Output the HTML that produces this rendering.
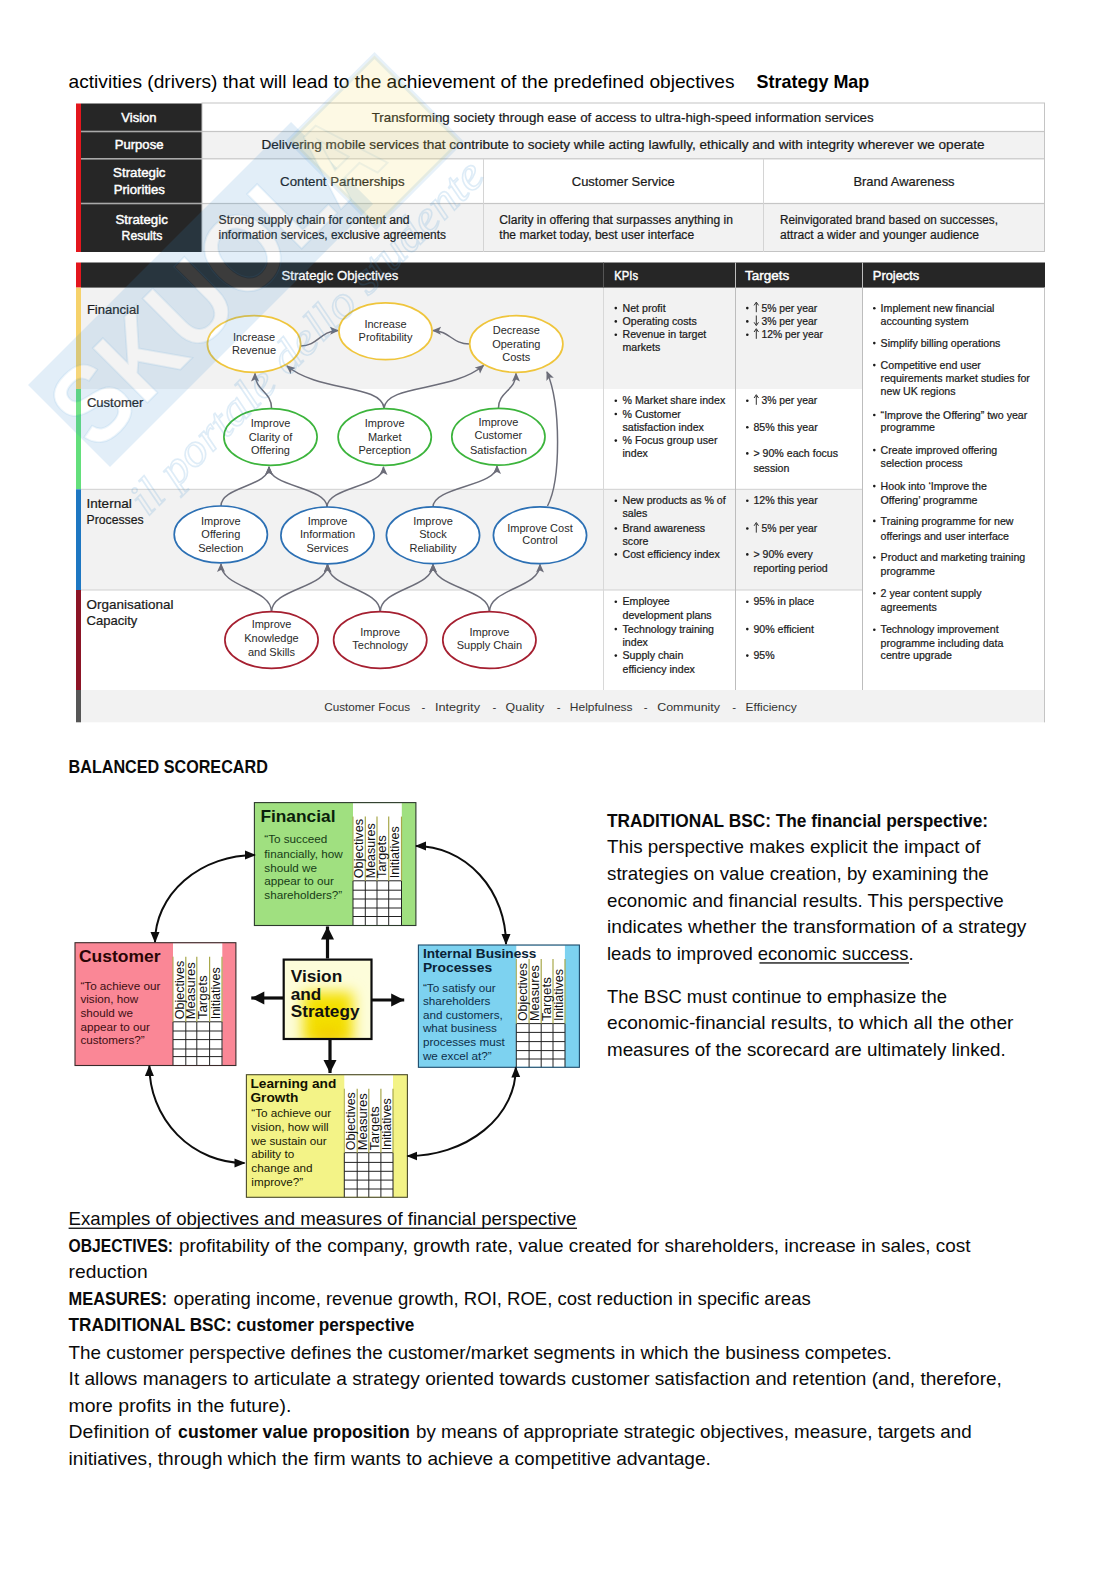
<!DOCTYPE html><html><head><meta charset="utf-8"><style>
html,body{margin:0;padding:0;background:#fff;}
svg{display:block;font-family:"Liberation Sans",sans-serif;}
</style></head><body>
<svg width="1118" height="1579" viewBox="0 0 1118 1579">
<!--WM-->
<text x="68.6" y="87.5" font-size="19" fill="#000" textLength="665.9" lengthAdjust="spacingAndGlyphs">activities (drivers) that will lead to the achievement of the predefined objectives</text>
<text x="756.6" y="87.5" font-size="19" font-weight="bold" fill="#000" textLength="112.7" lengthAdjust="spacingAndGlyphs">Strategy Map</text>
<g>
<rect x="202" y="103.5" width="843" height="28.0" fill="#ffffff"/>
<rect x="202" y="131.5" width="843" height="27.30000000000001" fill="#f2f2f2"/>
<rect x="202" y="158.8" width="843" height="44.69999999999999" fill="#ffffff"/>
<rect x="202" y="203.5" width="843" height="48.5" fill="#f2f2f2"/>
<rect x="81" y="103.5" width="121" height="148.5" fill="#262626"/>
<rect x="76" y="103.5" width="5" height="148.5" fill="#e3161d"/>
<rect x="81" y="130.7" width="121" height="1.6" fill="#a9a9a9"/>
<rect x="202" y="130.9" width="843" height="1.2" fill="#c6c6c6"/>
<rect x="81" y="158.0" width="121" height="1.6" fill="#a9a9a9"/>
<rect x="202" y="158.2" width="843" height="1.2" fill="#c6c6c6"/>
<rect x="81" y="202.7" width="121" height="1.6" fill="#a9a9a9"/>
<rect x="202" y="202.9" width="843" height="1.2" fill="#c6c6c6"/>
<rect x="202" y="103.0" width="842.5" height="148.5" fill="none" stroke="#c4c4c4" stroke-width="1"/>
<rect x="483" y="158.8" width="1" height="93.19999999999999" fill="#d4d4d4"/>
<rect x="763" y="158.8" width="1" height="93.19999999999999" fill="#d4d4d4"/>
</g>
<text x="121.3" y="121.9" font-size="13" fill="#ffffff" textLength="35.2" lengthAdjust="spacingAndGlyphs" stroke="#fff" stroke-width="0.45">Vision</text>
<text x="114.7" y="149.4" font-size="13" fill="#ffffff" textLength="48.8" lengthAdjust="spacingAndGlyphs" stroke="#fff" stroke-width="0.45">Purpose</text>
<text x="113.1" y="176.7" font-size="13" fill="#ffffff" textLength="52.4" lengthAdjust="spacingAndGlyphs" stroke="#fff" stroke-width="0.45">Strategic</text>
<text x="113.7" y="193.6" font-size="13" fill="#ffffff" textLength="51.2" lengthAdjust="spacingAndGlyphs" stroke="#fff" stroke-width="0.45">Priorities</text>
<text x="115.5" y="223.8" font-size="13" fill="#ffffff" textLength="52.3" lengthAdjust="spacingAndGlyphs" stroke="#fff" stroke-width="0.45">Strategic</text>
<text x="121.6" y="240.1" font-size="13" fill="#ffffff" textLength="40.7" lengthAdjust="spacingAndGlyphs" stroke="#fff" stroke-width="0.45">Results</text>
<text x="371.7" y="122.0" font-size="13" fill="#1a1a1a" textLength="502.0" lengthAdjust="spacingAndGlyphs" stroke="#1a1a1a" stroke-width="0.22">Transforming society through ease of access to ultra-high-speed information services</text>
<text x="261.5" y="149.2" font-size="13" fill="#1a1a1a" textLength="723.1" lengthAdjust="spacingAndGlyphs" stroke="#1a1a1a" stroke-width="0.22">Delivering mobile services that contribute to society while acting lawfully, ethically and with integrity wherever we operate</text>
<text x="280.1" y="185.8" font-size="13" fill="#1a1a1a" textLength="124.5" lengthAdjust="spacingAndGlyphs" stroke="#1a1a1a" stroke-width="0.22">Content Partnerships</text>
<text x="571.8" y="185.6" font-size="13" fill="#1a1a1a" textLength="103.0" lengthAdjust="spacingAndGlyphs" stroke="#1a1a1a" stroke-width="0.22">Customer Service</text>
<text x="853.4" y="185.6" font-size="13" fill="#1a1a1a" textLength="101.2" lengthAdjust="spacingAndGlyphs" stroke="#1a1a1a" stroke-width="0.22">Brand Awareness</text>
<text x="218.6" y="223.8" font-size="12" fill="#1a1a1a" textLength="190.9" lengthAdjust="spacingAndGlyphs" stroke="#1a1a1a" stroke-width="0.22">Strong supply chain for content and</text>
<text x="218.6" y="239.2" font-size="12" fill="#1a1a1a" textLength="227.4" lengthAdjust="spacingAndGlyphs" stroke="#1a1a1a" stroke-width="0.22">information services, exclusive agreements</text>
<text x="499.3" y="224.0" font-size="12" fill="#1a1a1a" textLength="233.6" lengthAdjust="spacingAndGlyphs" stroke="#1a1a1a" stroke-width="0.22">Clarity in offering that surpasses anything in</text>
<text x="499.3" y="239.3" font-size="12" fill="#1a1a1a" textLength="194.8" lengthAdjust="spacingAndGlyphs" stroke="#1a1a1a" stroke-width="0.22">the market today, best user interface</text>
<text x="780.0" y="224.0" font-size="12" fill="#1a1a1a" textLength="217.9" lengthAdjust="spacingAndGlyphs" stroke="#1a1a1a" stroke-width="0.22">Reinvigorated brand based on successes,</text>
<text x="780.0" y="239.4" font-size="12" fill="#1a1a1a" textLength="199.1" lengthAdjust="spacingAndGlyphs" stroke="#1a1a1a" stroke-width="0.22">attract a wider and younger audience</text>
<rect x="81" y="287.6" width="781" height="101.39999999999998" fill="#f2f2f2"/>
<rect x="81" y="389.0" width="781" height="100.30000000000001" fill="#ffffff"/>
<rect x="81" y="489.3" width="781" height="100.69999999999999" fill="#f2f2f2"/>
<rect x="81" y="590.0" width="781" height="100.0" fill="#ffffff"/>
<rect x="862" y="287.6" width="183" height="402.4" fill="#ffffff"/>
<rect x="81" y="690.0" width="964" height="32.299999999999955" fill="#f2f2f2"/>
<rect x="81" y="262.5" width="964" height="25.100000000000023" fill="#262626"/>
<rect x="76" y="262.5" width="5" height="25.100000000000023" fill="#e3161d"/>
<rect x="76" y="287.6" width="5" height="101.39999999999998" fill="#f6d26b"/>
<rect x="76" y="389.0" width="5" height="100.30000000000001" fill="#63df7b"/>
<rect x="76" y="489.3" width="5" height="100.69999999999999" fill="#1e77c2"/>
<rect x="76" y="590.0" width="5" height="100.0" fill="#8c1526"/>
<rect x="76" y="690.0" width="5" height="32.299999999999955" fill="#565656"/>
<rect x="81" y="488.8" width="781" height="1" fill="#cfcfcf"/>
<rect x="81" y="589.5" width="781" height="1" fill="#cfcfcf"/>
<rect x="603" y="287.6" width="1" height="402.4" fill="#d8d8d8"/>
<rect x="735" y="262.5" width="1" height="427.5" fill="#bdbdbd"/>
<rect x="862" y="262.5" width="1" height="427.5" fill="#bdbdbd"/>
<rect x="603" y="262.5" width="1" height="25.100000000000023" fill="#555"/>
<rect x="1044" y="287.6" width="1" height="434.69999999999993" fill="#c4c4c4"/>
<text x="281.5" y="279.7" font-size="13" fill="#ffffff" textLength="116.8" lengthAdjust="spacingAndGlyphs" stroke="#fff" stroke-width="0.3">Strategic Objectives</text>
<text x="614.3" y="279.6" font-size="13" fill="#ffffff" textLength="23.7" lengthAdjust="spacingAndGlyphs" stroke="#fff" stroke-width="0.45">KPIs</text>
<text x="745.0" y="279.6" font-size="13" fill="#ffffff" textLength="44.2" lengthAdjust="spacingAndGlyphs" stroke="#fff" stroke-width="0.45">Targets</text>
<text x="872.8" y="279.6" font-size="13" fill="#ffffff" textLength="46.5" lengthAdjust="spacingAndGlyphs" stroke="#fff" stroke-width="0.45">Projects</text>
<text x="86.9" y="313.8" font-size="13" fill="#1a1a1a" textLength="52.2" lengthAdjust="spacingAndGlyphs" stroke="#1a1a1a" stroke-width="0.22">Financial</text>
<text x="86.9" y="406.7" font-size="13" fill="#1a1a1a" textLength="56.4" lengthAdjust="spacingAndGlyphs" stroke="#1a1a1a" stroke-width="0.22">Customer</text>
<text x="86.6" y="507.7" font-size="13" fill="#1a1a1a" textLength="45.1" lengthAdjust="spacingAndGlyphs" stroke="#1a1a1a" stroke-width="0.22">Internal</text>
<text x="86.6" y="523.6" font-size="13" fill="#1a1a1a" textLength="57.0" lengthAdjust="spacingAndGlyphs" stroke="#1a1a1a" stroke-width="0.22">Processes</text>
<text x="86.6" y="608.6" font-size="13" fill="#1a1a1a" textLength="86.8" lengthAdjust="spacingAndGlyphs" stroke="#1a1a1a" stroke-width="0.22">Organisational</text>
<text x="86.6" y="625.0" font-size="13" fill="#1a1a1a" textLength="50.7" lengthAdjust="spacingAndGlyphs" stroke="#1a1a1a" stroke-width="0.22">Capacity</text>
<text x="324.2" y="710.8" font-size="11.5" fill="#333" textLength="86.0" lengthAdjust="spacingAndGlyphs">Customer Focus</text>
<text x="421.5" y="710.8" font-size="11.5" fill="#333">-</text>
<text x="434.9" y="710.8" font-size="11.5" fill="#333" textLength="45.1" lengthAdjust="spacingAndGlyphs">Integrity</text>
<text x="492.5" y="710.8" font-size="11.5" fill="#333">-</text>
<text x="505.6" y="710.8" font-size="11.5" fill="#333" textLength="38.6" lengthAdjust="spacingAndGlyphs">Quality</text>
<text x="556.8" y="710.8" font-size="11.5" fill="#333">-</text>
<text x="569.8" y="710.8" font-size="11.5" fill="#333" textLength="62.8" lengthAdjust="spacingAndGlyphs">Helpfulness</text>
<text x="643.8" y="710.8" font-size="11.5" fill="#333">-</text>
<text x="657.2" y="710.8" font-size="11.5" fill="#333" textLength="62.8" lengthAdjust="spacingAndGlyphs">Community</text>
<text x="732.2" y="710.8" font-size="11.5" fill="#333">-</text>
<text x="745.6" y="710.8" font-size="11.5" fill="#333" textLength="51.1" lengthAdjust="spacingAndGlyphs">Efficiency</text>
<circle cx="615.8" cy="308.1" r="1.3" fill="#1a1a1a"/>
<text x="622.5" y="311.7" font-size="11" fill="#1a1a1a" textLength="43.1" lengthAdjust="spacingAndGlyphs" stroke="#1a1a1a" stroke-width="0.22">Net profit</text>
<circle cx="615.8" cy="321.4" r="1.3" fill="#1a1a1a"/>
<text x="622.5" y="325.0" font-size="11" fill="#1a1a1a" textLength="74.3" lengthAdjust="spacingAndGlyphs" stroke="#1a1a1a" stroke-width="0.22">Operating costs</text>
<circle cx="615.8" cy="334.7" r="1.3" fill="#1a1a1a"/>
<text x="622.5" y="338.3" font-size="11" fill="#1a1a1a" textLength="83.8" lengthAdjust="spacingAndGlyphs" stroke="#1a1a1a" stroke-width="0.22">Revenue in target</text>
<text x="622.5" y="351.1" font-size="11" fill="#1a1a1a" textLength="37.7" lengthAdjust="spacingAndGlyphs" stroke="#1a1a1a" stroke-width="0.22">markets</text>
<circle cx="615.8" cy="400.7" r="1.3" fill="#1a1a1a"/>
<text x="622.5" y="404.3" font-size="11" fill="#1a1a1a" textLength="102.7" lengthAdjust="spacingAndGlyphs" stroke="#1a1a1a" stroke-width="0.22">% Market share index</text>
<circle cx="615.8" cy="414.0" r="1.3" fill="#1a1a1a"/>
<text x="622.5" y="417.6" font-size="11" fill="#1a1a1a" textLength="58.4" lengthAdjust="spacingAndGlyphs" stroke="#1a1a1a" stroke-width="0.22">% Customer</text>
<text x="622.5" y="430.9" font-size="11" fill="#1a1a1a" textLength="81.4" lengthAdjust="spacingAndGlyphs" stroke="#1a1a1a" stroke-width="0.22">satisfaction index</text>
<circle cx="615.8" cy="440.6" r="1.3" fill="#1a1a1a"/>
<text x="622.5" y="444.2" font-size="11" fill="#1a1a1a" textLength="95.0" lengthAdjust="spacingAndGlyphs" stroke="#1a1a1a" stroke-width="0.22">% Focus group user</text>
<text x="622.5" y="457.0" font-size="11" fill="#1a1a1a" textLength="25.4" lengthAdjust="spacingAndGlyphs" stroke="#1a1a1a" stroke-width="0.22">index</text>
<circle cx="615.8" cy="500.7" r="1.3" fill="#1a1a1a"/>
<text x="622.5" y="504.3" font-size="11" fill="#1a1a1a" textLength="103.2" lengthAdjust="spacingAndGlyphs" stroke="#1a1a1a" stroke-width="0.22">New products as % of</text>
<text x="622.5" y="517.1" font-size="11" fill="#1a1a1a" textLength="24.8" lengthAdjust="spacingAndGlyphs" stroke="#1a1a1a" stroke-width="0.22">sales</text>
<circle cx="615.8" cy="528.5" r="1.3" fill="#1a1a1a"/>
<text x="622.5" y="532.1" font-size="11" fill="#1a1a1a" textLength="82.6" lengthAdjust="spacingAndGlyphs" stroke="#1a1a1a" stroke-width="0.22">Brand awareness</text>
<text x="622.5" y="544.9" font-size="11" fill="#1a1a1a" textLength="26.0" lengthAdjust="spacingAndGlyphs" stroke="#1a1a1a" stroke-width="0.22">score</text>
<circle cx="615.8" cy="554.4" r="1.3" fill="#1a1a1a"/>
<text x="622.5" y="558.0" font-size="11" fill="#1a1a1a" textLength="97.2" lengthAdjust="spacingAndGlyphs" stroke="#1a1a1a" stroke-width="0.22">Cost efficiency index</text>
<circle cx="615.8" cy="601.8" r="1.3" fill="#1a1a1a"/>
<text x="622.5" y="605.4" font-size="11" fill="#1a1a1a" textLength="47.2" lengthAdjust="spacingAndGlyphs" stroke="#1a1a1a" stroke-width="0.22">Employee</text>
<text x="622.5" y="618.6" font-size="11" fill="#1a1a1a" textLength="89.1" lengthAdjust="spacingAndGlyphs" stroke="#1a1a1a" stroke-width="0.22">development plans</text>
<circle cx="615.8" cy="629.1" r="1.3" fill="#1a1a1a"/>
<text x="622.5" y="632.7" font-size="11" fill="#1a1a1a" textLength="91.5" lengthAdjust="spacingAndGlyphs" stroke="#1a1a1a" stroke-width="0.22">Technology training</text>
<text x="622.5" y="645.7" font-size="11" fill="#1a1a1a" textLength="25.4" lengthAdjust="spacingAndGlyphs" stroke="#1a1a1a" stroke-width="0.22">index</text>
<circle cx="615.8" cy="655.6" r="1.3" fill="#1a1a1a"/>
<text x="622.5" y="659.2" font-size="11" fill="#1a1a1a" textLength="60.8" lengthAdjust="spacingAndGlyphs" stroke="#1a1a1a" stroke-width="0.22">Supply chain</text>
<text x="622.5" y="673.0" font-size="11" fill="#1a1a1a" textLength="72.4" lengthAdjust="spacingAndGlyphs" stroke="#1a1a1a" stroke-width="0.22">efficiency index</text>
<path d="M756.3,312.2 L756.3,303.2" stroke="#1a1a1a" stroke-width="0.9"/><path d="M754.0999999999999,305.4 L756.3,302.09999999999997 L758.5,305.4" fill="none" stroke="#1a1a1a" stroke-width="0.9"/>
<circle cx="747.3" cy="308.1" r="1.3" fill="#1a1a1a"/>
<text x="761.4" y="311.7" font-size="11" fill="#1a1a1a" textLength="55.8" lengthAdjust="spacingAndGlyphs" stroke="#1a1a1a" stroke-width="0.22">5% per year</text>
<path d="M756.3,315.5 L756.3,324.5" stroke="#1a1a1a" stroke-width="0.9"/><path d="M754.0999999999999,322.3 L756.3,325.6 L758.5,322.3" fill="none" stroke="#1a1a1a" stroke-width="0.9"/>
<circle cx="747.3" cy="321.4" r="1.3" fill="#1a1a1a"/>
<text x="761.4" y="325.0" font-size="11" fill="#1a1a1a" textLength="55.8" lengthAdjust="spacingAndGlyphs" stroke="#1a1a1a" stroke-width="0.22">3% per year</text>
<path d="M756.3,338.8 L756.3,329.8" stroke="#1a1a1a" stroke-width="0.9"/><path d="M754.0999999999999,332.0 L756.3,328.7 L758.5,332.0" fill="none" stroke="#1a1a1a" stroke-width="0.9"/>
<circle cx="747.3" cy="334.7" r="1.3" fill="#1a1a1a"/>
<text x="761.4" y="338.3" font-size="11" fill="#1a1a1a" textLength="61.5" lengthAdjust="spacingAndGlyphs" stroke="#1a1a1a" stroke-width="0.22">12% per year</text>
<path d="M756.3,404.8 L756.3,395.8" stroke="#1a1a1a" stroke-width="0.9"/><path d="M754.0999999999999,398.0 L756.3,394.7 L758.5,398.0" fill="none" stroke="#1a1a1a" stroke-width="0.9"/>
<circle cx="747.3" cy="400.7" r="1.3" fill="#1a1a1a"/>
<text x="761.4" y="404.3" font-size="11" fill="#1a1a1a" textLength="55.8" lengthAdjust="spacingAndGlyphs" stroke="#1a1a1a" stroke-width="0.22">3% per year</text>
<path d="M756.3,532.6 L756.3,523.6" stroke="#1a1a1a" stroke-width="0.9"/><path d="M754.0999999999999,525.8000000000001 L756.3,522.5 L758.5,525.8000000000001" fill="none" stroke="#1a1a1a" stroke-width="0.9"/>
<circle cx="747.3" cy="528.5" r="1.3" fill="#1a1a1a"/>
<text x="761.4" y="532.1" font-size="11" fill="#1a1a1a" textLength="55.8" lengthAdjust="spacingAndGlyphs" stroke="#1a1a1a" stroke-width="0.22">5% per year</text>
<circle cx="747.3" cy="427.3" r="1.3" fill="#1a1a1a"/>
<text x="753.4" y="430.9" font-size="11" fill="#1a1a1a" textLength="64.3" lengthAdjust="spacingAndGlyphs" stroke="#1a1a1a" stroke-width="0.22">85% this year</text>
<circle cx="747.3" cy="453.4" r="1.3" fill="#1a1a1a"/>
<text x="753.4" y="457.0" font-size="11" fill="#1a1a1a" textLength="84.7" lengthAdjust="spacingAndGlyphs" stroke="#1a1a1a" stroke-width="0.22">&gt; 90% each focus</text>
<text x="753.4" y="471.5" font-size="11" fill="#1a1a1a" textLength="36.0" lengthAdjust="spacingAndGlyphs" stroke="#1a1a1a" stroke-width="0.22">session</text>
<circle cx="747.3" cy="500.7" r="1.3" fill="#1a1a1a"/>
<text x="753.4" y="504.3" font-size="11" fill="#1a1a1a" textLength="64.3" lengthAdjust="spacingAndGlyphs" stroke="#1a1a1a" stroke-width="0.22">12% this year</text>
<circle cx="747.3" cy="554.4" r="1.3" fill="#1a1a1a"/>
<text x="753.4" y="558.0" font-size="11" fill="#1a1a1a" textLength="59.3" lengthAdjust="spacingAndGlyphs" stroke="#1a1a1a" stroke-width="0.22">&gt; 90% every</text>
<text x="753.4" y="572.0" font-size="11" fill="#1a1a1a" textLength="74.4" lengthAdjust="spacingAndGlyphs" stroke="#1a1a1a" stroke-width="0.22">reporting period</text>
<circle cx="747.3" cy="601.8" r="1.3" fill="#1a1a1a"/>
<text x="753.4" y="605.4" font-size="11" fill="#1a1a1a" textLength="60.8" lengthAdjust="spacingAndGlyphs" stroke="#1a1a1a" stroke-width="0.22">95% in place</text>
<circle cx="747.3" cy="629.1" r="1.3" fill="#1a1a1a"/>
<text x="753.4" y="632.7" font-size="11" fill="#1a1a1a" textLength="60.6" lengthAdjust="spacingAndGlyphs" stroke="#1a1a1a" stroke-width="0.22">90% efficient</text>
<circle cx="747.3" cy="655.6" r="1.3" fill="#1a1a1a"/>
<text x="753.4" y="659.2" font-size="11" fill="#1a1a1a" textLength="21.2" lengthAdjust="spacingAndGlyphs" stroke="#1a1a1a" stroke-width="0.22">95%</text>
<circle cx="874.3" cy="308.3" r="1.3" fill="#1a1a1a"/>
<text x="880.6" y="311.9" font-size="11" fill="#1a1a1a" textLength="113.9" lengthAdjust="spacingAndGlyphs" stroke="#1a1a1a" stroke-width="0.22">Implement new financial</text>
<text x="880.6" y="324.5" font-size="11" fill="#1a1a1a" textLength="87.9" lengthAdjust="spacingAndGlyphs" stroke="#1a1a1a" stroke-width="0.22">accounting system</text>
<circle cx="874.3" cy="343.1" r="1.3" fill="#1a1a1a"/>
<text x="880.6" y="346.7" font-size="11" fill="#1a1a1a" textLength="119.8" lengthAdjust="spacingAndGlyphs" stroke="#1a1a1a" stroke-width="0.22">Simplify billing operations</text>
<circle cx="874.3" cy="365.1" r="1.3" fill="#1a1a1a"/>
<text x="880.6" y="368.7" font-size="11" fill="#1a1a1a" textLength="100.3" lengthAdjust="spacingAndGlyphs" stroke="#1a1a1a" stroke-width="0.22">Competitive end user</text>
<text x="880.6" y="382.4" font-size="11" fill="#1a1a1a" textLength="149.3" lengthAdjust="spacingAndGlyphs" stroke="#1a1a1a" stroke-width="0.22">requirements market studies for</text>
<text x="880.6" y="395.0" font-size="11" fill="#1a1a1a" textLength="74.9" lengthAdjust="spacingAndGlyphs" stroke="#1a1a1a" stroke-width="0.22">new UK regions</text>
<circle cx="874.3" cy="415.0" r="1.3" fill="#1a1a1a"/>
<text x="880.6" y="418.6" font-size="11" fill="#1a1a1a" textLength="146.7" lengthAdjust="spacingAndGlyphs" stroke="#1a1a1a" stroke-width="0.22">“Improve the Offering” two year</text>
<text x="880.6" y="431.2" font-size="11" fill="#1a1a1a" textLength="54.3" lengthAdjust="spacingAndGlyphs" stroke="#1a1a1a" stroke-width="0.22">programme</text>
<circle cx="874.3" cy="450.1" r="1.3" fill="#1a1a1a"/>
<text x="880.6" y="453.7" font-size="11" fill="#1a1a1a" textLength="116.6" lengthAdjust="spacingAndGlyphs" stroke="#1a1a1a" stroke-width="0.22">Create improved offering</text>
<text x="880.6" y="466.9" font-size="11" fill="#1a1a1a" textLength="82.0" lengthAdjust="spacingAndGlyphs" stroke="#1a1a1a" stroke-width="0.22">selection process</text>
<circle cx="874.3" cy="486.1" r="1.3" fill="#1a1a1a"/>
<text x="880.6" y="489.7" font-size="11" fill="#1a1a1a" textLength="106.2" lengthAdjust="spacingAndGlyphs" stroke="#1a1a1a" stroke-width="0.22">Hook into ‘Improve the</text>
<text x="880.6" y="503.8" font-size="11" fill="#1a1a1a" textLength="96.8" lengthAdjust="spacingAndGlyphs" stroke="#1a1a1a" stroke-width="0.22">Offering’ programme</text>
<circle cx="874.3" cy="520.9" r="1.3" fill="#1a1a1a"/>
<text x="880.6" y="524.5" font-size="11" fill="#1a1a1a" textLength="132.9" lengthAdjust="spacingAndGlyphs" stroke="#1a1a1a" stroke-width="0.22">Training programme for new</text>
<text x="880.6" y="539.5" font-size="11" fill="#1a1a1a" textLength="128.4" lengthAdjust="spacingAndGlyphs" stroke="#1a1a1a" stroke-width="0.22">offerings and user interface</text>
<circle cx="874.3" cy="557.5" r="1.3" fill="#1a1a1a"/>
<text x="880.6" y="561.1" font-size="11" fill="#1a1a1a" textLength="144.6" lengthAdjust="spacingAndGlyphs" stroke="#1a1a1a" stroke-width="0.22">Product and marketing training</text>
<text x="880.6" y="574.8" font-size="11" fill="#1a1a1a" textLength="54.3" lengthAdjust="spacingAndGlyphs" stroke="#1a1a1a" stroke-width="0.22">programme</text>
<circle cx="874.3" cy="593.2" r="1.3" fill="#1a1a1a"/>
<text x="880.6" y="596.8" font-size="11" fill="#1a1a1a" textLength="100.9" lengthAdjust="spacingAndGlyphs" stroke="#1a1a1a" stroke-width="0.22">2 year content supply</text>
<text x="880.6" y="610.5" font-size="11" fill="#1a1a1a" textLength="56.1" lengthAdjust="spacingAndGlyphs" stroke="#1a1a1a" stroke-width="0.22">agreements</text>
<circle cx="874.3" cy="629.8" r="1.3" fill="#1a1a1a"/>
<text x="880.6" y="633.4" font-size="11" fill="#1a1a1a" textLength="118.0" lengthAdjust="spacingAndGlyphs" stroke="#1a1a1a" stroke-width="0.22">Technology improvement</text>
<text x="880.6" y="646.6" font-size="11" fill="#1a1a1a" textLength="122.7" lengthAdjust="spacingAndGlyphs" stroke="#1a1a1a" stroke-width="0.22">programme including data</text>
<text x="880.6" y="659.3" font-size="11" fill="#1a1a1a" textLength="71.4" lengthAdjust="spacingAndGlyphs" stroke="#1a1a1a" stroke-width="0.22">centre upgrade</text>
<defs>
<marker id="ah" markerWidth="10" markerHeight="10" refX="8" refY="4" orient="auto" markerUnits="userSpaceOnUse">
<path d="M0,0 L9,4 L0,8 L2,4 z" fill="#6c6d79"/></marker>
<marker id="bh" markerWidth="14" markerHeight="14" refX="11" refY="5" orient="auto" markerUnits="userSpaceOnUse">
<path d="M0,0 L12,5 L0,10 z" fill="#111"/></marker>
<marker id="bhs" markerWidth="14" markerHeight="14" refX="1" refY="5" orient="auto" markerUnits="userSpaceOnUse">
<path d="M12,0 L0,5 L12,10 z" fill="#111"/></marker>
</defs>
<path d="M300.5,346 C318,346 320,331 338,330.5" fill="none" stroke="#6c6d79" stroke-width="1.5" marker-end="url(#ah)"/>
<path d="M469.5,344 C452,344 450,331 433,330.5" fill="none" stroke="#6c6d79" stroke-width="1.5" marker-end="url(#ah)"/>
<path d="M271.6,408.5 C271.6,391.0 255,391.0 255,373.5" fill="none" stroke="#6c6d79" stroke-width="1.5" marker-end="url(#ah)"/>
<path d="M384,408 C381,384 318,392 287,366" fill="none" stroke="#6c6d79" stroke-width="1.5" marker-end="url(#ah)"/>
<path d="M384,408 C387,384 452,392 483.5,365.5" fill="none" stroke="#6c6d79" stroke-width="1.5" marker-end="url(#ah)"/>
<path d="M498.4,408.5 C498.4,391.0 516,391.0 516,373.5" fill="none" stroke="#6c6d79" stroke-width="1.5" marker-end="url(#ah)"/>
<path d="M547.5,506 C561,480 561,405 547,372" fill="none" stroke="#6c6d79" stroke-width="1.5" marker-end="url(#ah)"/>
<path d="M221,506 C221,486.5 269,486.5 269,467" fill="none" stroke="#6c6d79" stroke-width="1.5" marker-end="url(#ah)"/>
<path d="M327,507 C327,487.0 269,487.0 269,467" fill="none" stroke="#6c6d79" stroke-width="1.5" marker-end="url(#ah)"/>
<path d="M327,507 C327,487.0 383.5,487.0 383.5,467" fill="none" stroke="#6c6d79" stroke-width="1.5" marker-end="url(#ah)"/>
<path d="M433,507 C433,486.5 497,486.5 497,466" fill="none" stroke="#6c6d79" stroke-width="1.5" marker-end="url(#ah)"/>
<path d="M271.5,612 C271.5,588.0 221,588.0 221,564" fill="none" stroke="#6c6d79" stroke-width="1.5" marker-end="url(#ah)"/>
<path d="M271.5,612 C271.5,588.25 327.5,588.25 327.5,564.5" fill="none" stroke="#6c6d79" stroke-width="1.5" marker-end="url(#ah)"/>
<path d="M380.2,612 C380.2,588.25 327.5,588.25 327.5,564.5" fill="none" stroke="#6c6d79" stroke-width="1.5" marker-end="url(#ah)"/>
<path d="M380.2,612 C380.2,588.25 433,588.25 433,564.5" fill="none" stroke="#6c6d79" stroke-width="1.5" marker-end="url(#ah)"/>
<path d="M489.4,612 C489.4,588.25 433,588.25 433,564.5" fill="none" stroke="#6c6d79" stroke-width="1.5" marker-end="url(#ah)"/>
<path d="M489.4,612 C489.4,588.25 540,588.25 540,564.5" fill="none" stroke="#6c6d79" stroke-width="1.5" marker-end="url(#ah)"/>
<ellipse cx="254" cy="344" rx="46.6" ry="28.4" fill="#fff" stroke="#efc53c" stroke-width="1.7"/>
<text x="254" y="340.7" font-size="11" text-anchor="middle" fill="#2a2a2a">Increase</text>
<text x="254" y="353.9" font-size="11" text-anchor="middle" fill="#2a2a2a">Revenue</text>
<ellipse cx="385.5" cy="331.3" rx="46.6" ry="28.4" fill="#fff" stroke="#efc53c" stroke-width="1.7"/>
<text x="385.5" y="327.9" font-size="11" text-anchor="middle" fill="#2a2a2a">Increase</text>
<text x="385.5" y="340.7" font-size="11" text-anchor="middle" fill="#2a2a2a">Profitability</text>
<ellipse cx="516.3" cy="344" rx="46.6" ry="28.4" fill="#fff" stroke="#efc53c" stroke-width="1.7"/>
<text x="516.3" y="334.2" font-size="11" text-anchor="middle" fill="#2a2a2a">Decrease</text>
<text x="516.3" y="348.1" font-size="11" text-anchor="middle" fill="#2a2a2a">Operating</text>
<text x="516.3" y="361.0" font-size="11" text-anchor="middle" fill="#2a2a2a">Costs</text>
<ellipse cx="270.5" cy="437" rx="46.6" ry="28.4" fill="#fff" stroke="#3cb43c" stroke-width="1.7"/>
<text x="270.5" y="427.0" font-size="11" text-anchor="middle" fill="#2a2a2a">Improve</text>
<text x="270.5" y="440.5" font-size="11" text-anchor="middle" fill="#2a2a2a">Clarity of</text>
<text x="270.5" y="454.2" font-size="11" text-anchor="middle" fill="#2a2a2a">Offering</text>
<ellipse cx="384.7" cy="437" rx="46.6" ry="28.4" fill="#fff" stroke="#3cb43c" stroke-width="1.7"/>
<text x="384.7" y="427.0" font-size="11" text-anchor="middle" fill="#2a2a2a">Improve</text>
<text x="384.7" y="440.5" font-size="11" text-anchor="middle" fill="#2a2a2a">Market</text>
<text x="384.7" y="454.2" font-size="11" text-anchor="middle" fill="#2a2a2a">Perception</text>
<ellipse cx="498.4" cy="436.7" rx="46.6" ry="28.4" fill="#fff" stroke="#3cb43c" stroke-width="1.7"/>
<text x="498.4" y="426.3" font-size="11" text-anchor="middle" fill="#2a2a2a">Improve</text>
<text x="498.4" y="439.2" font-size="11" text-anchor="middle" fill="#2a2a2a">Customer</text>
<text x="498.4" y="453.6" font-size="11" text-anchor="middle" fill="#2a2a2a">Satisfaction</text>
<ellipse cx="220.8" cy="534.4" rx="46.6" ry="28.4" fill="#fff" stroke="#2c70b4" stroke-width="1.7"/>
<text x="220.8" y="525.1" font-size="11" text-anchor="middle" fill="#2a2a2a">Improve</text>
<text x="220.8" y="537.9" font-size="11" text-anchor="middle" fill="#2a2a2a">Offering</text>
<text x="220.8" y="551.7" font-size="11" text-anchor="middle" fill="#2a2a2a">Selection</text>
<ellipse cx="327.5" cy="535.4" rx="46.6" ry="28.4" fill="#fff" stroke="#2c70b4" stroke-width="1.7"/>
<text x="327.5" y="525.1" font-size="11" text-anchor="middle" fill="#2a2a2a">Improve</text>
<text x="327.5" y="537.9" font-size="11" text-anchor="middle" fill="#2a2a2a">Information</text>
<text x="327.5" y="551.7" font-size="11" text-anchor="middle" fill="#2a2a2a">Services</text>
<ellipse cx="433.0" cy="535.3" rx="46.6" ry="28.4" fill="#fff" stroke="#2c70b4" stroke-width="1.7"/>
<text x="433.0" y="524.5" font-size="11" text-anchor="middle" fill="#2a2a2a">Improve</text>
<text x="433.0" y="537.9" font-size="11" text-anchor="middle" fill="#2a2a2a">Stock</text>
<text x="433.0" y="552.3" font-size="11" text-anchor="middle" fill="#2a2a2a">Reliability</text>
<ellipse cx="540.0" cy="535.3" rx="46.6" ry="28.4" fill="#fff" stroke="#2c70b4" stroke-width="1.7"/>
<text x="540.0" y="531.7" font-size="11" text-anchor="middle" fill="#2a2a2a">Improve Cost</text>
<text x="540.0" y="544.0" font-size="11" text-anchor="middle" fill="#2a2a2a">Control</text>
<ellipse cx="271.5" cy="640" rx="46.6" ry="28.4" fill="#fff" stroke="#a51f30" stroke-width="1.7"/>
<text x="271.5" y="628.4" font-size="11" text-anchor="middle" fill="#2a2a2a">Improve</text>
<text x="271.5" y="642.3" font-size="11" text-anchor="middle" fill="#2a2a2a">Knowledge</text>
<text x="271.5" y="656.2" font-size="11" text-anchor="middle" fill="#2a2a2a">and Skills</text>
<ellipse cx="380.2" cy="640" rx="46.6" ry="28.4" fill="#fff" stroke="#a51f30" stroke-width="1.7"/>
<text x="380.2" y="635.5" font-size="11" text-anchor="middle" fill="#2a2a2a">Improve</text>
<text x="380.2" y="649.1" font-size="11" text-anchor="middle" fill="#2a2a2a">Technology</text>
<ellipse cx="489.4" cy="640" rx="46.6" ry="28.4" fill="#fff" stroke="#a51f30" stroke-width="1.7"/>
<text x="489.4" y="635.5" font-size="11" text-anchor="middle" fill="#2a2a2a">Improve</text>
<text x="489.4" y="649.1" font-size="11" text-anchor="middle" fill="#2a2a2a">Supply Chain</text>
<defs>
<radialGradient id="vg" cx="0.5" cy="0.85" r="0.55">
<stop offset="0" stop-color="#f2dc00"/><stop offset="0.55" stop-color="#f8f07a"/><stop offset="1" stop-color="#fdfdd8"/></radialGradient>
<marker id="ka" markerWidth="14" markerHeight="14" refX="10" refY="5" orient="auto-start-reverse" markerUnits="userSpaceOnUse">
<path d="M0,0.5 L11,5 L0,9.5 z" fill="#0d0d0d"/></marker>
</defs>
<rect x="254.4" y="802.6" width="161.49999999999997" height="122.89999999999998" fill="#a0e080"/>
<rect x="353" y="803.1" width="48.80000000000001" height="121.89999999999998" fill="#ffffff"/>
<line x1="353" y1="880.8" x2="353" y2="925.5" stroke="#222" stroke-width="1"/>
<line x1="365.3" y1="880.8" x2="365.3" y2="925.5" stroke="#222" stroke-width="1"/>
<line x1="377" y1="880.8" x2="377" y2="925.5" stroke="#222" stroke-width="1"/>
<line x1="388.7" y1="880.8" x2="388.7" y2="925.5" stroke="#222" stroke-width="1"/>
<line x1="401.5" y1="880.8" x2="401.5" y2="925.5" stroke="#222" stroke-width="1"/>
<line x1="353" y1="880.8" x2="401.8" y2="880.8" stroke="#222" stroke-width="1"/>
<line x1="353" y1="890.2" x2="401.8" y2="890.2" stroke="#222" stroke-width="1"/>
<line x1="353" y1="899" x2="401.8" y2="899" stroke="#222" stroke-width="1"/>
<line x1="353" y1="908" x2="401.8" y2="908" stroke="#222" stroke-width="1"/>
<line x1="353" y1="916.5" x2="401.8" y2="916.5" stroke="#222" stroke-width="1"/>
<line x1="365.3" y1="816.6" x2="365.3" y2="880.8" stroke="#a8a84a" stroke-width="1.2"/>
<line x1="377" y1="816.6" x2="377" y2="880.8" stroke="#a8a84a" stroke-width="1.2"/>
<line x1="388.7" y1="816.6" x2="388.7" y2="880.8" stroke="#a8a84a" stroke-width="1.2"/>
<line x1="401.5" y1="816.6" x2="401.5" y2="880.8" stroke="#a8a84a" stroke-width="1.2"/>
<line x1="353" y1="816.6" x2="353" y2="880.8" stroke="#a8a84a" stroke-width="1"/>
<text transform="translate(363.0,878.3) rotate(-90)" font-size="12.5" fill="#111" textLength="59.5" lengthAdjust="spacingAndGlyphs">Objectives</text>
<text transform="translate(374.7,878.3) rotate(-90)" font-size="12.5" fill="#111" textLength="55" lengthAdjust="spacingAndGlyphs">Measures</text>
<text transform="translate(386.4,878.3) rotate(-90)" font-size="12.5" fill="#111" textLength="43" lengthAdjust="spacingAndGlyphs">Targets</text>
<text transform="translate(399.2,878.3) rotate(-90)" font-size="12.5" fill="#111" textLength="52" lengthAdjust="spacingAndGlyphs">Initiatives</text>
<rect x="254.4" y="802.6" width="161.49999999999997" height="122.89999999999998" fill="none" stroke="#2c3a2c" stroke-width="1.1"/>
<text x="260.4" y="822.2" font-size="17.3" font-weight="bold" fill="#0b1f0b" textLength="75.1" lengthAdjust="spacingAndGlyphs">Financial</text>
<text x="264.3" y="843.4" font-size="11.7" fill="#173d17">“To succeed</text>
<text x="264.3" y="857.9" font-size="11.7" fill="#173d17">financially, how</text>
<text x="264.3" y="871.5" font-size="11.7" fill="#173d17">should we</text>
<text x="264.3" y="885.1" font-size="11.7" fill="#173d17">appear to our</text>
<text x="264.3" y="898.7" font-size="11.7" fill="#173d17">shareholders?”</text>
<rect x="75" y="942.7" width="160.9" height="122.79999999999995" fill="#fa8796"/>
<rect x="173" y="943.2" width="49.30000000000001" height="121.79999999999995" fill="#ffffff"/>
<line x1="173" y1="1021.8" x2="173" y2="1065.5" stroke="#222" stroke-width="1"/>
<line x1="185.8" y1="1021.8" x2="185.8" y2="1065.5" stroke="#222" stroke-width="1"/>
<line x1="196.8" y1="1021.8" x2="196.8" y2="1065.5" stroke="#222" stroke-width="1"/>
<line x1="209.6" y1="1021.8" x2="209.6" y2="1065.5" stroke="#222" stroke-width="1"/>
<line x1="222" y1="1021.8" x2="222" y2="1065.5" stroke="#222" stroke-width="1"/>
<line x1="173" y1="1021.8" x2="222.3" y2="1021.8" stroke="#222" stroke-width="1"/>
<line x1="173" y1="1031" x2="222.3" y2="1031" stroke="#222" stroke-width="1"/>
<line x1="173" y1="1039.6" x2="222.3" y2="1039.6" stroke="#222" stroke-width="1"/>
<line x1="173" y1="1049" x2="222.3" y2="1049" stroke="#222" stroke-width="1"/>
<line x1="173" y1="1056.6" x2="222.3" y2="1056.6" stroke="#222" stroke-width="1"/>
<line x1="185.8" y1="956.7" x2="185.8" y2="1021.8" stroke="#a8a84a" stroke-width="1.2"/>
<line x1="196.8" y1="956.7" x2="196.8" y2="1021.8" stroke="#a8a84a" stroke-width="1.2"/>
<line x1="209.6" y1="956.7" x2="209.6" y2="1021.8" stroke="#a8a84a" stroke-width="1.2"/>
<line x1="222" y1="956.7" x2="222" y2="1021.8" stroke="#a8a84a" stroke-width="1.2"/>
<line x1="173" y1="956.7" x2="173" y2="1021.8" stroke="#a8a84a" stroke-width="1"/>
<text transform="translate(183.5,1019.3) rotate(-90)" font-size="12.5" fill="#111" textLength="58.5" lengthAdjust="spacingAndGlyphs">Objectives</text>
<text transform="translate(194.5,1019.3) rotate(-90)" font-size="12.5" fill="#111" textLength="57" lengthAdjust="spacingAndGlyphs">Measures</text>
<text transform="translate(207.3,1019.3) rotate(-90)" font-size="12.5" fill="#111" textLength="44" lengthAdjust="spacingAndGlyphs">Targets</text>
<text transform="translate(219.7,1019.3) rotate(-90)" font-size="12.5" fill="#111" textLength="52" lengthAdjust="spacingAndGlyphs">Initiatives</text>
<rect x="75" y="942.7" width="160.9" height="122.79999999999995" fill="none" stroke="#3a2a2a" stroke-width="1.1"/>
<text x="79.0" y="962.3" font-size="17.3" font-weight="bold" fill="#2a0505" textLength="81.6" lengthAdjust="spacingAndGlyphs">Customer</text>
<text x="80.4" y="989.5" font-size="11.7" fill="#3d0f12">“To achieve our</text>
<text x="80.4" y="1003.1" font-size="11.7" fill="#3d0f12">vision, how</text>
<text x="80.4" y="1016.7" font-size="11.7" fill="#3d0f12">should we</text>
<text x="80.4" y="1030.6" font-size="11.7" fill="#3d0f12">appear to our</text>
<text x="80.4" y="1044.2" font-size="11.7" fill="#3d0f12">customers?”</text>
<rect x="418.4" y="945" width="161.0" height="122.29999999999995" fill="#7dd2f0"/>
<rect x="516.3" y="945.5" width="48.60000000000002" height="121.29999999999995" fill="#ffffff"/>
<line x1="516.3" y1="1023.6" x2="516.3" y2="1067.3" stroke="#222" stroke-width="1"/>
<line x1="529.1" y1="1023.6" x2="529.1" y2="1067.3" stroke="#222" stroke-width="1"/>
<line x1="541.2" y1="1023.6" x2="541.2" y2="1067.3" stroke="#222" stroke-width="1"/>
<line x1="553" y1="1023.6" x2="553" y2="1067.3" stroke="#222" stroke-width="1"/>
<line x1="565" y1="1023.6" x2="565" y2="1067.3" stroke="#222" stroke-width="1"/>
<line x1="516.3" y1="1023.6" x2="564.9" y2="1023.6" stroke="#222" stroke-width="1"/>
<line x1="516.3" y1="1032.4" x2="564.9" y2="1032.4" stroke="#222" stroke-width="1"/>
<line x1="516.3" y1="1041.6" x2="564.9" y2="1041.6" stroke="#222" stroke-width="1"/>
<line x1="516.3" y1="1050.6" x2="564.9" y2="1050.6" stroke="#222" stroke-width="1"/>
<line x1="516.3" y1="1059" x2="564.9" y2="1059" stroke="#222" stroke-width="1"/>
<line x1="529.1" y1="959" x2="529.1" y2="1023.6" stroke="#a8a84a" stroke-width="1.2"/>
<line x1="541.2" y1="959" x2="541.2" y2="1023.6" stroke="#a8a84a" stroke-width="1.2"/>
<line x1="553" y1="959" x2="553" y2="1023.6" stroke="#a8a84a" stroke-width="1.2"/>
<line x1="565" y1="959" x2="565" y2="1023.6" stroke="#a8a84a" stroke-width="1.2"/>
<line x1="516.3" y1="959" x2="516.3" y2="1023.6" stroke="#a8a84a" stroke-width="1"/>
<text transform="translate(526.8,1021.1) rotate(-90)" font-size="12.5" fill="#111" textLength="58" lengthAdjust="spacingAndGlyphs">Objectives</text>
<text transform="translate(538.9,1021.1) rotate(-90)" font-size="12.5" fill="#111" textLength="56" lengthAdjust="spacingAndGlyphs">Measures</text>
<text transform="translate(550.7,1021.1) rotate(-90)" font-size="12.5" fill="#111" textLength="44" lengthAdjust="spacingAndGlyphs">Targets</text>
<text transform="translate(562.7,1021.1) rotate(-90)" font-size="12.5" fill="#111" textLength="52" lengthAdjust="spacingAndGlyphs">Initiatives</text>
<rect x="418.4" y="945" width="161.0" height="122.29999999999995" fill="none" stroke="#1c4a6a" stroke-width="1.1"/>
<text x="422.9" y="957.5" font-size="13.7" font-weight="bold" fill="#0a2236" textLength="113.5" lengthAdjust="spacingAndGlyphs">Internal Business</text>
<text x="422.9" y="972.4" font-size="13.7" font-weight="bold" fill="#0a2236" textLength="69.2" lengthAdjust="spacingAndGlyphs">Processes</text>
<text x="422.9" y="991.7" font-size="11.7" fill="#0e2f4a">“To satisfy our</text>
<text x="422.9" y="1004.6" font-size="11.7" fill="#0e2f4a">shareholders</text>
<text x="422.9" y="1019.0" font-size="11.7" fill="#0e2f4a">and customers,</text>
<text x="422.9" y="1032.4" font-size="11.7" fill="#0e2f4a">what business</text>
<text x="422.9" y="1046.1" font-size="11.7" fill="#0e2f4a">processes must</text>
<text x="422.9" y="1059.8" font-size="11.7" fill="#0e2f4a">we excel at?”</text>
<rect x="246.4" y="1074.7" width="160.99999999999997" height="122.59999999999991" fill="#f3f387"/>
<rect x="344.3" y="1075.2" width="48.69999999999999" height="121.59999999999991" fill="#ffffff"/>
<line x1="344.3" y1="1152.7" x2="344.3" y2="1197.3" stroke="#222" stroke-width="1"/>
<line x1="357.2" y1="1152.7" x2="357.2" y2="1197.3" stroke="#222" stroke-width="1"/>
<line x1="368.8" y1="1152.7" x2="368.8" y2="1197.3" stroke="#222" stroke-width="1"/>
<line x1="380.9" y1="1152.7" x2="380.9" y2="1197.3" stroke="#222" stroke-width="1"/>
<line x1="393" y1="1152.7" x2="393" y2="1197.3" stroke="#222" stroke-width="1"/>
<line x1="344.3" y1="1152.7" x2="393" y2="1152.7" stroke="#222" stroke-width="1"/>
<line x1="344.3" y1="1162.4" x2="393" y2="1162.4" stroke="#222" stroke-width="1"/>
<line x1="344.3" y1="1171.3" x2="393" y2="1171.3" stroke="#222" stroke-width="1"/>
<line x1="344.3" y1="1180.1" x2="393" y2="1180.1" stroke="#222" stroke-width="1"/>
<line x1="344.3" y1="1189" x2="393" y2="1189" stroke="#222" stroke-width="1"/>
<line x1="357.2" y1="1088.7" x2="357.2" y2="1152.7" stroke="#a8a84a" stroke-width="1.2"/>
<line x1="368.8" y1="1088.7" x2="368.8" y2="1152.7" stroke="#a8a84a" stroke-width="1.2"/>
<line x1="380.9" y1="1088.7" x2="380.9" y2="1152.7" stroke="#a8a84a" stroke-width="1.2"/>
<line x1="393" y1="1088.7" x2="393" y2="1152.7" stroke="#a8a84a" stroke-width="1.2"/>
<line x1="344.3" y1="1088.7" x2="344.3" y2="1152.7" stroke="#a8a84a" stroke-width="1"/>
<text transform="translate(354.9,1150.2) rotate(-90)" font-size="12.5" fill="#111" textLength="58" lengthAdjust="spacingAndGlyphs">Objectives</text>
<text transform="translate(366.5,1150.2) rotate(-90)" font-size="12.5" fill="#111" textLength="57" lengthAdjust="spacingAndGlyphs">Measures</text>
<text transform="translate(378.6,1150.2) rotate(-90)" font-size="12.5" fill="#111" textLength="44" lengthAdjust="spacingAndGlyphs">Targets</text>
<text transform="translate(390.7,1150.2) rotate(-90)" font-size="12.5" fill="#111" textLength="52" lengthAdjust="spacingAndGlyphs">Initiatives</text>
<rect x="246.4" y="1074.7" width="160.99999999999997" height="122.59999999999991" fill="none" stroke="#4a4a2a" stroke-width="1.1"/>
<text x="250.5" y="1087.5" font-size="13.7" font-weight="bold" fill="#111100" textLength="85.8" lengthAdjust="spacingAndGlyphs">Learning and</text>
<text x="250.5" y="1102.4" font-size="13.7" font-weight="bold" fill="#111100" textLength="47.8" lengthAdjust="spacingAndGlyphs">Growth</text>
<text x="251.3" y="1117.3" font-size="11.7" fill="#1a1a05">“To achieve our</text>
<text x="251.3" y="1131.0" font-size="11.7" fill="#1a1a05">vision, how will</text>
<text x="251.3" y="1144.7" font-size="11.7" fill="#1a1a05">we sustain our</text>
<text x="251.3" y="1158.4" font-size="11.7" fill="#1a1a05">ability to</text>
<text x="251.3" y="1171.6" font-size="11.7" fill="#1a1a05">change and</text>
<text x="251.3" y="1185.8" font-size="11.7" fill="#1a1a05">improve?”</text>
<defs><clipPath id="vclip"><rect x="283.7" y="959.6" width="87.8" height="79.4"/></clipPath><filter id="vblur" x="-50%" y="-50%" width="200%" height="200%"><feGaussianBlur stdDeviation="7"/></filter></defs>
<rect x="283.7" y="959.6" width="87.8" height="79.4" fill="#fdfdda"/>
<g clip-path="url(#vclip)"><rect x="303" y="992" width="50" height="52" fill="#f4e000" filter="url(#vblur)"/><ellipse cx="328" cy="1036" rx="14" ry="8" fill="#f0c800" filter="url(#vblur)" opacity="0.8"/></g>
<rect x="283.7" y="959.6" width="87.8" height="79.4" fill="none" stroke="#0d0d0d" stroke-width="2.2"/>
<text x="290.7" y="982.0" font-size="17.2" font-weight="bold" fill="#111" textLength="51.5" lengthAdjust="spacingAndGlyphs">Vision</text>
<text x="290.7" y="999.7" font-size="17.2" font-weight="bold" fill="#111">and</text>
<text x="290.7" y="1017.4" font-size="17.2" font-weight="bold" fill="#111" textLength="68.8" lengthAdjust="spacingAndGlyphs">Strategy</text>
<line x1="327.5" y1="958.5" x2="327.5" y2="926.5" stroke="#0d0d0d" stroke-width="3.2"/>
<path d="M327.5,926.5 L334.0,939.5 L321.0,939.5 z" fill="#0d0d0d"/>
<line x1="283" y1="998" x2="251.3" y2="998" stroke="#0d0d0d" stroke-width="3.2"/>
<path d="M251.3,998 L264.3,991.5 L264.3,1004.5 z" fill="#0d0d0d"/>
<line x1="372" y1="1000" x2="404.2" y2="1000" stroke="#0d0d0d" stroke-width="3.2"/>
<path d="M404.2,1000 L391.2,1006.5 L391.2,993.5 z" fill="#0d0d0d"/>
<line x1="330" y1="1040" x2="330" y2="1073" stroke="#0d0d0d" stroke-width="3.2"/>
<path d="M330,1073 L323.5,1060.0 L336.5,1060.0 z" fill="#0d0d0d"/>
<path d="M255,855 A100,87 0 0 0 155,942" fill="none" stroke="#0d0d0d" stroke-width="2" marker-start="url(#ka)" marker-end="url(#ka)"/>
<path d="M416,846 A90,98 0 0 1 506,944" fill="none" stroke="#0d0d0d" stroke-width="2" marker-start="url(#ka)" marker-end="url(#ka)"/>
<path d="M149.4,1066 A95,97 0 0 0 244.5,1163" fill="none" stroke="#0d0d0d" stroke-width="2" marker-start="url(#ka)" marker-end="url(#ka)"/>
<path d="M515.8,1067.5 A108,88 0 0 1 407.5,1156" fill="none" stroke="#0d0d0d" stroke-width="2" marker-start="url(#ka)" marker-end="url(#ka)"/>
<text x="68.6" y="773.2" font-size="19" font-weight="bold" fill="#0a0a0a" textLength="199.2" lengthAdjust="spacingAndGlyphs">BALANCED SCORECARD</text>
<text x="607.0" y="826.5" font-size="19" font-weight="bold" fill="#0a0a0a" textLength="381.1" lengthAdjust="spacingAndGlyphs">TRADITIONAL BSC: The financial perspective:</text>
<text x="607.0" y="853.3" font-size="19" fill="#0a0a0a" textLength="373.4" lengthAdjust="spacingAndGlyphs">This perspective makes explicit the impact of</text>
<text x="607.0" y="880.1" font-size="19" fill="#0a0a0a" textLength="381.8" lengthAdjust="spacingAndGlyphs">strategies on value creation, by examining the</text>
<text x="607.0" y="906.6" font-size="19" fill="#0a0a0a" textLength="396.7" lengthAdjust="spacingAndGlyphs">economic and financial results. This perspective</text>
<text x="607.0" y="933.4" font-size="19" fill="#0a0a0a" textLength="419.4" lengthAdjust="spacingAndGlyphs">indicates whether the transformation of a strategy</text>
<text x="607.0" y="960.4" font-size="19" fill="#0a0a0a" textLength="306.7" lengthAdjust="spacingAndGlyphs">leads to improved economic success.</text>
<rect x="759.5" y="962.3" width="149.5" height="1.3" fill="#0a0a0a"/>
<text x="607.0" y="1002.6" font-size="19" fill="#0a0a0a" textLength="339.9" lengthAdjust="spacingAndGlyphs">The BSC must continue to emphasize the</text>
<text x="607.0" y="1029.2" font-size="19" fill="#0a0a0a" textLength="406.5" lengthAdjust="spacingAndGlyphs">economic-financial results, to which all the other</text>
<text x="607.0" y="1055.7" font-size="19" fill="#0a0a0a" textLength="398.8" lengthAdjust="spacingAndGlyphs">measures of the scorecard are ultimately linked.</text>
<text x="68.6" y="1225.1" font-size="19" fill="#0a0a0a" textLength="507.8" lengthAdjust="spacingAndGlyphs">Examples of objectives and measures of financial perspective</text>
<rect x="68.6" y="1227.6" width="508.4" height="1.3" fill="#0a0a0a"/>
<text x="68.6" y="1252.0" font-size="19" font-weight="bold" fill="#0a0a0a" textLength="104.5" lengthAdjust="spacingAndGlyphs">OBJECTIVES:</text>
<text x="179.0" y="1252.0" font-size="19" fill="#0a0a0a" textLength="791.5" lengthAdjust="spacingAndGlyphs">profitability of the company, growth rate, value created for shareholders, increase in sales, cost</text>
<text x="68.6" y="1278.2" font-size="19" fill="#0a0a0a" textLength="79.1" lengthAdjust="spacingAndGlyphs">reduction</text>
<text x="68.6" y="1304.8" font-size="19" font-weight="bold" fill="#0a0a0a" textLength="98.4" lengthAdjust="spacingAndGlyphs">MEASURES:</text>
<text x="173.6" y="1304.8" font-size="19" fill="#0a0a0a" textLength="637.1" lengthAdjust="spacingAndGlyphs">operating income, revenue growth, ROI, ROE, cost reduction in specific areas</text>
<text x="68.6" y="1331.2" font-size="19" font-weight="bold" fill="#0a0a0a" textLength="345.7" lengthAdjust="spacingAndGlyphs">TRADITIONAL BSC: customer perspective</text>
<text x="68.6" y="1358.6" font-size="19" fill="#0a0a0a" textLength="823.2" lengthAdjust="spacingAndGlyphs">The customer perspective defines the customer/market segments in which the business competes.</text>
<text x="68.6" y="1385.4" font-size="19" fill="#0a0a0a" textLength="933.3" lengthAdjust="spacingAndGlyphs">It allows managers to articulate a strategy oriented towards customer satisfaction and retention (and, therefore,</text>
<text x="68.6" y="1411.6" font-size="19" fill="#0a0a0a" textLength="222.7" lengthAdjust="spacingAndGlyphs">more profits in the future).</text>
<text x="68.6" y="1438.3" font-size="19" fill="#0a0a0a" textLength="102.4" lengthAdjust="spacingAndGlyphs">Definition of</text>
<text x="178.1" y="1438.3" font-size="19" font-weight="bold" fill="#0a0a0a" textLength="231.8" lengthAdjust="spacingAndGlyphs">customer value proposition</text>
<text x="416.0" y="1438.3" font-size="19" fill="#0a0a0a" textLength="555.7" lengthAdjust="spacingAndGlyphs">by means of appropriate strategic objectives, measure, targets and</text>
<text x="68.6" y="1464.6" font-size="19" fill="#0a0a0a" textLength="642.3" lengthAdjust="spacingAndGlyphs">initiatives, through which the firm wants to achieve a competitive advantage.</text>
<defs><mask id="wmk" maskUnits="userSpaceOnUse" x="-50" y="-50" width="700" height="300">
<rect x="-50" y="-50" width="700" height="300" fill="#fff"/>
<text x="0" y="97" font-size="112" font-weight="bold" fill="#000" textLength="414" lengthAdjust="spacingAndGlyphs">SKUOLA</text>
</mask></defs>
<g transform="translate(28,385) rotate(-45)">
<rect x="0" y="0" width="372" height="116" fill="#3a8fd0" opacity="0.14" mask="url(#wmk)"/>
<text x="0" y="97" font-size="112" font-weight="bold" fill="#ffffff" opacity="0.10" stroke="#3a8fd0" stroke-width="2" stroke-opacity="0.9" textLength="414" lengthAdjust="spacingAndGlyphs">SKUOLA</text>
<rect x="358" y="12" width="120" height="122" fill="#f3dc5a" opacity="0.16"/>
<rect x="358" y="12" width="120" height="122" fill="none" stroke="#3a8fd0" stroke-opacity="0.12" stroke-width="5"/>
<text x="-9" y="178" font-size="46" font-style="italic" font-family="Liberation Serif" fill="none" stroke="#3a8fd0" stroke-width="1.6" opacity="0.16" textLength="480" lengthAdjust="spacingAndGlyphs">il portale dello studente</text>
</g>
</svg></body></html>
